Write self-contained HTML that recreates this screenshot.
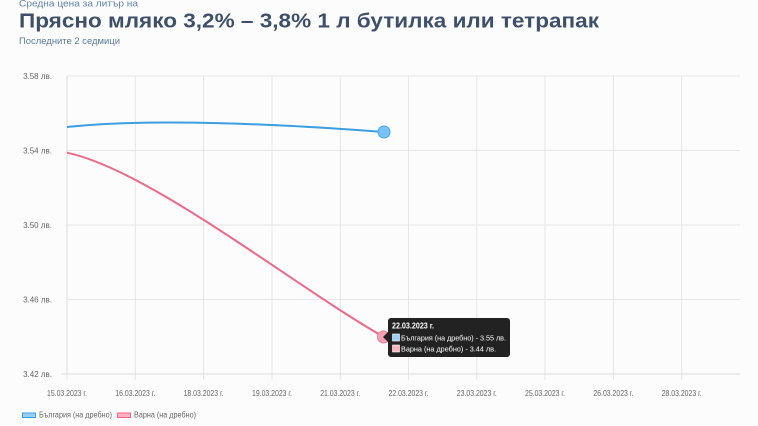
<!DOCTYPE html>
<html><head><meta charset="utf-8"><style>
html,body{margin:0;padding:0;background:#fcfcfc;}
svg{display:block;}
text{font-family:"Liberation Sans",sans-serif;}
</style></head><body>
<svg width="758" height="426" viewBox="0 0 758 426" xmlns="http://www.w3.org/2000/svg">
<rect width="758" height="426" fill="#fcfcfc"/>
<text x="19" y="6.5" font-size="9.5" fill="#5d82ab" textLength="119" lengthAdjust="spacingAndGlyphs">Средна цена за литър на</text>
<text x="19" y="27.5" font-size="20" font-weight="bold" fill="#3e5069" textLength="580" lengthAdjust="spacingAndGlyphs">Прясно мляко 3,2% – 3,8% 1 л бутилка или тетрапак</text>
<text x="19" y="44" font-size="9" fill="#5b7b9d" textLength="101" lengthAdjust="spacingAndGlyphs">Последните 2 седмици</text>
<g stroke="#e6e6e6" stroke-width="1">
<line x1="67" y1="76" x2="740" y2="76"/>
<line x1="67" y1="150.5" x2="740" y2="150.5"/>
<line x1="67" y1="225" x2="740" y2="225"/>
<line x1="67" y1="299.5" x2="740" y2="299.5"/>
<line x1="67" y1="80" x2="67" y2="380"/>
<line x1="135.3" y1="76" x2="135.3" y2="380"/>
<line x1="203.6" y1="76" x2="203.6" y2="380"/>
<line x1="272" y1="76" x2="272" y2="380"/>
<line x1="340.2" y1="76" x2="340.2" y2="380"/>
<line x1="408.5" y1="76" x2="408.5" y2="380"/>
<line x1="476.8" y1="76" x2="476.8" y2="380"/>
<line x1="545" y1="76" x2="545" y2="380"/>
<line x1="613.4" y1="76" x2="613.4" y2="380"/>
<line x1="681.7" y1="76" x2="681.7" y2="380"/>
</g>
<line x1="61" y1="374" x2="740" y2="374" stroke="#dcdcdc" stroke-width="1"/>
<line x1="67" y1="76" x2="67" y2="374" stroke="#dcdcdc" stroke-width="1"/>
<g font-size="8" fill="#666" text-anchor="end">
<text x="52" y="79">3.58 лв.</text>
<text x="52" y="153.5">3.54 лв.</text>
<text x="52" y="228">3.50 лв.</text>
<text x="52" y="302.5">3.46 лв.</text>
<text x="52" y="377">3.42 лв.</text>
</g>
<g font-size="8" fill="#666" text-anchor="middle">
<text x="67" y="396" textLength="40" lengthAdjust="spacingAndGlyphs">15.03.2023 г.</text>
<text x="135.3" y="396" textLength="40" lengthAdjust="spacingAndGlyphs">16.03.2023 г.</text>
<text x="203.6" y="396" textLength="40" lengthAdjust="spacingAndGlyphs">18.03.2023 г.</text>
<text x="272" y="396" textLength="40" lengthAdjust="spacingAndGlyphs">19.03.2023 г.</text>
<text x="340.2" y="396" textLength="40" lengthAdjust="spacingAndGlyphs">21.03.2023 г.</text>
<text x="408.5" y="396" textLength="40" lengthAdjust="spacingAndGlyphs">22.03.2023 г.</text>
<text x="476.8" y="396" textLength="40" lengthAdjust="spacingAndGlyphs">23.03.2023 г.</text>
<text x="545" y="396" textLength="40" lengthAdjust="spacingAndGlyphs">25.03.2023 г.</text>
<text x="613.4" y="396" textLength="40" lengthAdjust="spacingAndGlyphs">26.03.2023 г.</text>
<text x="681.7" y="396" textLength="40" lengthAdjust="spacingAndGlyphs">28.03.2023 г.</text>
</g>
<path d="M67,127 C150,118 280,124 384,132" fill="none" stroke="#3b9fe0" stroke-width="2"/>
<path d="M67,152.7 C150,170 300,290 384,337" fill="none" stroke="#ec6a88" stroke-width="2"/>
<circle cx="384" cy="132" r="6" fill="#79c2f6" stroke="#4aa6e6" stroke-width="1"/>
<circle cx="383.5" cy="337" r="6" fill="#f3a2b5" stroke="#ee7d98" stroke-width="1"/>
<path d="M388,332 L383,337 L388,342 Z" fill="#222"/>
<rect x="388" y="318" width="122" height="39" rx="3" fill="#222"/>
<text x="392" y="328.5" font-size="8" font-weight="bold" fill="#fff" textLength="42" lengthAdjust="spacingAndGlyphs">22.03.2023 г.</text>
<rect x="392.5" y="334" width="7" height="7" fill="#9ad0f5" stroke="#fff" stroke-width="0.6"/>
<text x="401" y="340.5" font-size="7.5" fill="#fff" textLength="105" lengthAdjust="spacingAndGlyphs">България (на дребно) - 3.55 лв.</text>
<rect x="392.5" y="345" width="7" height="7" fill="#ffb1c1" stroke="#fff" stroke-width="0.6"/>
<text x="401" y="351.5" font-size="7.5" fill="#fff" textLength="95" lengthAdjust="spacingAndGlyphs">Варна (на дребно) - 3.44 лв.</text>
<rect x="22.5" y="413" width="13" height="4.5" fill="#9ad0f5" stroke="#36a2eb" stroke-width="1"/>
<text x="39" y="417.5" font-size="8" fill="#666" textLength="73" lengthAdjust="spacingAndGlyphs">България (на дребно)</text>
<rect x="117.5" y="413" width="13" height="4.5" fill="#ffb1c1" stroke="#ff6384" stroke-width="1"/>
<text x="134" y="417.5" font-size="8" fill="#666" textLength="62" lengthAdjust="spacingAndGlyphs">Варна (на дребно)</text>
</svg>
</body></html>
